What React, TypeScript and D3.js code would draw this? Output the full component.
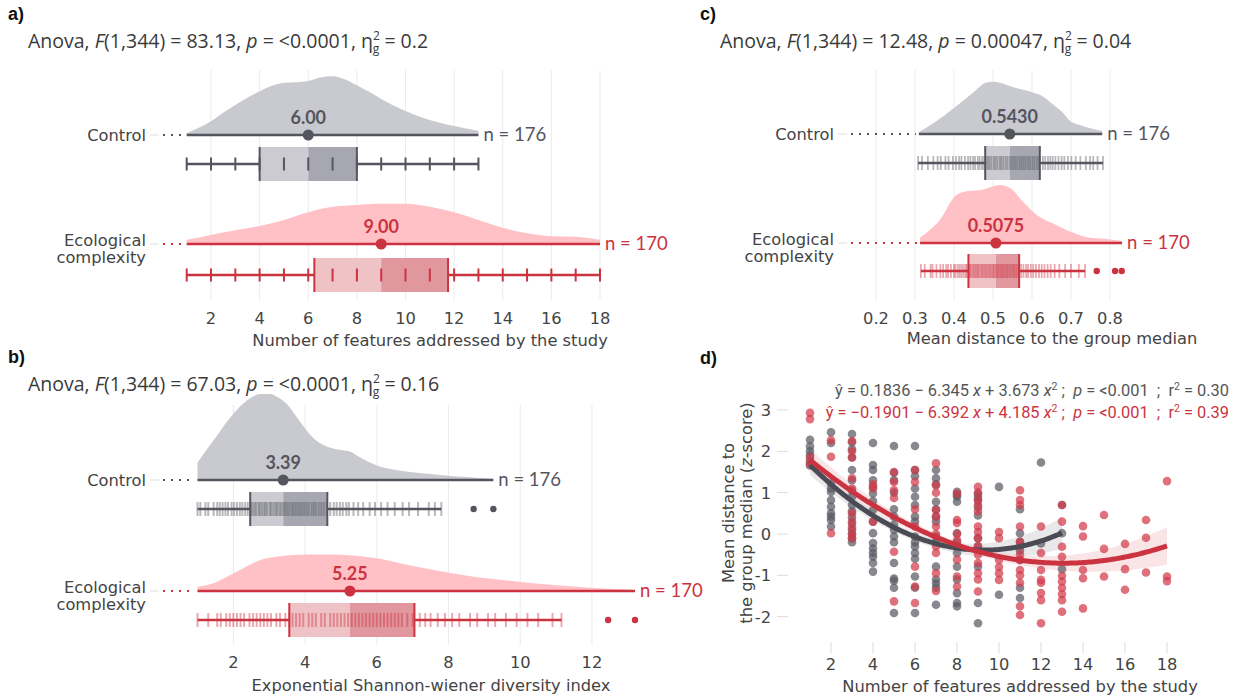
import React from "react";
import * as d3 from "d3";

// ================= DATA =================
// Panel a: number of features addressed (discrete), counts per level
const levelsA_control = [1, 2, 3, 4, 5, 6, 7, 8, 9, 10, 11, 12, 13];
const countsA_control = [3, 8, 14, 20, 24, 26, 28, 22, 13, 8, 5, 3, 2];
const levelsA_eco = [1, 2, 3, 4, 5, 6, 7, 8, 9, 10, 11, 12, 13, 14, 15, 16, 17, 18];
const countsA_eco = [2, 4, 6, 8, 11, 12, 15, 17, 17, 18, 17, 13, 10, 7, 5, 3, 3, 2];
const densA_control: [number, number][] = [[1, 0.03], [1.5, 0.12], [2, 0.23], [2.5, 0.37], [3, 0.5], [3.5, 0.62], [4, 0.73], [4.5, 0.82], [5, 0.87], [5.5, 0.88], [6, 0.9], [6.5, 0.96], [7, 0.98], [7.5, 0.93], [8, 0.83], [8.5, 0.72], [9, 0.6], [10, 0.4], [11, 0.25], [12, 0.15], [13, 0.07]];
const densA_eco: [number, number][] = [[1, 0.07], [2, 0.15], [3, 0.23], [4, 0.3], [5, 0.4], [6, 0.53], [7, 0.62], [8, 0.65], [9, 0.67], [10, 0.67], [11, 0.62], [12, 0.53], [13, 0.4], [14, 0.27], [15, 0.18], [16, 0.13], [17, 0.12], [18, 0.07]];
const ticksA = [2, 4, 6, 8, 10, 12, 14, 16, 18];

// Panel b: exponential Shannon-Wiener diversity
const valuesB_control = [1.0, 1.08, 1.22, 1.3, 1.45, 1.55, 1.62, 1.7, 1.78, 1.85, 1.95, 2.02, 2.1, 2.18, 2.25, 2.33, 2.4, 2.47, 2.52, 2.58, 2.63, 2.7, 2.74, 2.8, 2.86, 2.9, 2.95, 3.02, 3.06, 3.12, 3.18, 3.22, 3.28, 3.33, 3.39, 3.44, 3.5, 3.56, 3.63, 3.68, 3.74, 3.8, 3.86, 3.92, 3.98, 4.04, 4.1, 4.18, 4.24, 4.3, 4.38, 4.45, 4.52, 4.6, 4.7, 4.8, 4.88, 4.97, 5.05, 5.15, 5.22, 5.35, 5.48, 5.62, 5.8, 5.95, 6.12, 6.3, 6.5, 6.72, 6.9, 7.15, 7.45, 7.62, 7.8];
const boxB_control = [1.0, 2.47, 3.39, 4.62, 7.8];
const outliersB_control = [8.7, 9.25];
const densB_control: [number, number][] = [[1.0, 0.2], [1.25, 0.35], [1.5, 0.49], [1.75, 0.64], [2.0, 0.77], [2.25, 0.88], [2.5, 0.96], [2.75, 1.0], [3.0, 1.0], [3.25, 0.96], [3.5, 0.88], [3.75, 0.74], [4.0, 0.6], [4.25, 0.48], [4.5, 0.41], [4.75, 0.37], [5.0, 0.35], [5.25, 0.33], [5.5, 0.27], [6.0, 0.17], [6.5, 0.12], [7.0, 0.09], [7.5, 0.07], [8.0, 0.05], [8.5, 0.035], [9.0, 0.02], [9.25, 0.012]];
const valuesB_eco = [1.0, 1.3, 1.55, 1.65, 1.8, 1.9, 2.0, 2.1, 2.2, 2.3, 2.45, 2.55, 2.65, 2.75, 2.85, 2.95, 3.05, 3.2, 3.3, 3.45, 3.56, 3.65, 3.75, 3.85, 3.95, 4.1, 4.2, 4.3, 4.45, 4.55, 4.7, 4.8, 4.9, 5.0, 5.1, 5.2, 5.3, 5.4, 5.5, 5.6, 5.7, 5.8, 5.9, 6.0, 6.1, 6.2, 6.3, 6.4, 6.5, 6.6, 6.7, 6.85, 7.0, 7.2, 7.35, 7.5, 7.7, 7.9, 8.1, 8.3, 8.6, 8.8, 9.1, 9.3, 9.6, 9.9, 10.2, 10.5, 10.9, 11.15];
const boxB_eco = [1.0, 3.56, 5.25, 7.05, 11.15];
const outliersB_eco = [12.45, 13.2];
const densB_eco: [number, number][] = [[1.0, 0.05], [1.5, 0.1], [1.8, 0.16], [2.25, 0.26], [2.75, 0.36], [3.25, 0.4], [3.7, 0.42], [4.5, 0.425], [5.1, 0.42], [6.0, 0.38], [6.9, 0.3], [7.9, 0.22], [8.8, 0.16], [9.7, 0.12], [10.6, 0.08], [11.6, 0.05], [12.5, 0.025], [13.2, 0.012]];
const ticksB = [2, 4, 6, 8, 10, 12];

// Panel c: mean distance to the group median
const valuesC_control = [0.308, 0.318, 0.333, 0.347, 0.358, 0.366, 0.378, 0.386, 0.397, 0.405, 0.413, 0.419, 0.428, 0.436, 0.442, 0.449, 0.454, 0.461, 0.466, 0.472, 0.477, 0.482, 0.487, 0.491, 0.496, 0.502, 0.506, 0.511, 0.517, 0.521, 0.526, 0.532, 0.537, 0.543, 0.548, 0.553, 0.558, 0.563, 0.569, 0.574, 0.579, 0.584, 0.59, 0.595, 0.601, 0.606, 0.612, 0.617, 0.62, 0.628, 0.634, 0.641, 0.647, 0.653, 0.66, 0.668, 0.676, 0.683, 0.692, 0.701, 0.712, 0.724, 0.738, 0.749, 0.757, 0.768, 0.782];
const boxC_control = [0.308, 0.48, 0.543, 0.62, 0.782];
const outliersC_control: number[] = [];
const densC_control: [number, number][] = [[0.31, 0.035], [0.35, 0.2], [0.4, 0.45], [0.45, 0.72], [0.48, 0.88], [0.5, 0.9], [0.52, 0.88], [0.55, 0.81], [0.58, 0.76], [0.6, 0.72], [0.63, 0.64], [0.65, 0.53], [0.68, 0.36], [0.7, 0.21], [0.73, 0.14], [0.75, 0.1], [0.78, 0.05]];
const valuesC_eco = [0.315, 0.325, 0.34, 0.345, 0.355, 0.365, 0.372, 0.38, 0.385, 0.392, 0.4, 0.404, 0.41, 0.415, 0.42, 0.425, 0.43, 0.433, 0.44, 0.443, 0.448, 0.452, 0.456, 0.46, 0.463, 0.468, 0.472, 0.476, 0.48, 0.484, 0.488, 0.492, 0.496, 0.5, 0.503, 0.507, 0.511, 0.515, 0.52, 0.524, 0.528, 0.533, 0.537, 0.542, 0.547, 0.552, 0.556, 0.561, 0.566, 0.572, 0.578, 0.585, 0.59, 0.597, 0.603, 0.61, 0.618, 0.625, 0.632, 0.64, 0.648, 0.658, 0.67, 0.685, 0.7, 0.72, 0.736];
const boxC_eco = [0.315, 0.437, 0.5075, 0.567, 0.736];
const outliersC_eco = [0.766, 0.813, 0.83];
const densC_eco: [number, number][] = [[0.313, 0.09], [0.364, 0.4], [0.407, 0.83], [0.441, 0.9], [0.467, 0.91], [0.518, 1.0], [0.544, 0.95], [0.577, 0.71], [0.613, 0.48], [0.646, 0.36], [0.69, 0.22], [0.741, 0.1], [0.792, 0.07], [0.831, 0.035]];
const ticksC = [0.2, 0.3, 0.4, 0.5, 0.6, 0.7, 0.8];

// Panel d: scatter, z-score by number of features
const scatterControl: [number, number[]][] = [
  [1, [2.28, 2.12, 2.0, 1.9, 1.76, 1.66]],
  [2, [2.46, 2.2, 1.22, 1.1, 1.02, 0.82, 0.66, 0.5, 0.42, 0.34, 0.18]],
  [3, [2.42, 2.22, 2.05, 1.85, 1.55, 1.3, 1.05, 0.9, 0.7, 0.55, 0.4, 0.25, 0.1, 0.0, -0.1, -0.2]],
  [4, [2.2, 1.67, 1.55, 1.3, 1.14, 0.98, 0.8, 0.58, 0.3, 0.02, -0.22, -0.35, -0.46, -0.55, -0.7, -0.91]],
  [5, [2.13, 1.48, 1.3, 1.0, 0.6, 0.42, 0.22, 0.1, -0.06, -0.2, -0.7, -1.08, -1.13, -1.3, -1.91]],
  [6, [2.13, 1.55, 1.4, 1.1, 0.9, 0.7, 0.42, 0.3, -0.06, -0.2, -0.3, -0.46, -0.6, -1.03, -1.3, -1.91]],
  [7, [1.55, 1.35, 1.2, 0.78, 0.6, 0.42, 0.3, -0.06, -0.2, -0.79, -1.1, -1.2, -1.3, -1.71]],
  [8, [1.02, 0.95, 0.9, 0.78, 0.02, -0.2, -0.46, -0.79, -1.1, -1.43, -1.67, -1.75]],
  [9, [0.98, 0.9, 0.82, 0.65, 0.45, -0.1, -0.3, -0.79, -1.67, -2.16]],
  [10, [1.14, -1.47]],
  [11, [0.6, 0.02, -0.19, -0.4, -0.63, -1.3, -1.55]],
  [12, [1.73, -0.23]],
  [13, [0.7, 0.02, -0.85]],
];
const scatterEco: [number, number[]][] = [
  [1, [2.93, 2.78, 1.85, 1.7]],
  [2, [2.27, 1.87, 0.02]],
  [3, [2.25, 2.0, 1.85, 1.35, 1.1, 0.5, 0.3, 0.15, 0.0, -0.1]],
  [4, [1.2, 1.1, 0.3]],
  [5, [1.5, 1.26, 1.06, 0.87, -0.43, -1.63]],
  [6, [1.55, 1.26, 0.6, 0.18, -0.79, -1.27, -1.67]],
  [7, [1.71, 1.18, 1.0, 0.58, 0.42, 0.18, 0.0, -0.3, -0.46, -0.95, -1.38]],
  [8, [0.98, 0.34, 0.27, 0.0, -0.15, -0.3, -0.62, -1.03, -1.27]],
  [9, [1.14, 1.0, 0.82, 0.7, 0.55, 0.18, 0.05, -0.1, -0.3, -0.5, -0.7, -0.95, -1.1, -1.39]],
  [10, [0.05, -0.1, -0.63, -0.8, -0.95, -1.11]],
  [11, [1.06, 0.82, 0.7, 0.18, -0.19, -0.3, -0.5, -0.63, -0.87, -1.0, -1.18, -1.75, -1.96]],
  [12, [0.18, -0.46, -0.87, -1.11, -1.18, -1.43, -1.6, -2.16]],
  [13, [0.7, 0.3, -0.31, -0.55, -1.01, -1.15, -1.3, -1.45, -1.6, -1.88]],
  [14, [0.19, -0.06, -0.87, -1.07, -1.8]],
  [15, [0.46, -0.36, -1.03]],
  [16, [-0.24, -0.85, -1.35]],
  [17, [0.34, -0.09, -0.93]],
  [18, [1.28, -1.03, -1.14]],
];
// fitted quadratic curves (raw-x coefficients) and CI half-width model [h0, h2, centre]
const fitControl = [2.1975, -0.5575, 0.03003];
const fitEco = [2.221, -0.4481, 0.01715];
const bandControl = [0.1, 0.0057, 6];
const bandEco = [0.09, 0.0036, 8];
const rangeControl = [1, 13];
const rangeEco = [1, 18];
const ticksDx = [2, 4, 6, 8, 10, 12, 14, 16, 18];
const ticksDy = [-2, -1, 0, 1, 2, 3];

// ================= STYLE =================
type Pal = { dens: string; line: string; boxL: string; boxR: string; text: string };
const GREY: Pal = { dens: "#c9c9d0", line: "#55555f", boxL: "#cbcbd1", boxR: "#a7a7b1", text: "#55555f" };
const RED: Pal = { dens: "#ffc1c5", line: "#cc3341", boxL: "#efc2c6", boxR: "#e1979e", text: "#cc3341" };
const AX_FONT = "DejaVu Sans";
const AX_SIZE = 16.3;
const NUM_FONT = "Lato";
const TITLE_FONT = "Open Sans";

const expand = (levels: number[], counts: number[]) =>
  levels.flatMap((v, i) => Array(counts[i]).fill(v) as number[]);

function statsFromCounts(levels: number[], counts: number[]) {
  const v = expand(levels, counts).sort((a, b) => a - b);
  return [d3.min(v)!, d3.quantile(v, 0.25)!, d3.quantile(v, 0.5)!, d3.quantile(v, 0.75)!, d3.max(v)!];
}

interface GroupProps {
  x: d3.ScaleLinear<number, number>;
  pal: Pal;
  dens: [number, number][];
  densPx: number;
  base: number;
  boxY: number;
  stats: number[];
  outliers: number[];
  ticks: number[];
  tickOpacity: number;
  tickW: number;
  tickH: number;
  medLabel: string;
  nLabel: string;
  labelLines: string[];
  labelX: number;
}

function Group(p: GroupProps) {
  const { x, pal, dens, base, boxY, stats } = p;
  const area = d3
    .area<[number, number]>()
    .x((d) => x(d[0]))
    .y0(base)
    .y1((d) => base - d[1] * p.densPx)
    .curve(d3.curveMonotoneX);
  const x0 = x(dens[0][0]);
  const x1 = x(dens[dens.length - 1][0]);
  const [lo, q1, med, q3, hi] = stats;
  const bh = 17;
  const lines = p.labelLines;
  return (
    <g>
      <path d={area(dens) || ""} fill={pal.dens} />
      {/* y axis tick + dotted guide */}
      <line x1={p.labelX + 4} x2={p.labelX + 13} y1={base} y2={base} stroke="#dedede" strokeWidth={1} />
      <line x1={p.labelX + 17} x2={x0 - 3} y1={base} y2={base} stroke={pal.line} strokeWidth={2.2} strokeDasharray="2 6" />
      <line x1={x0} x2={x1} y1={base} y2={base} stroke={pal.line} strokeWidth={2.5} />
      <circle cx={x(med)} cy={base} r={5.5} fill={pal.line} />
      <text x={x(med)} y={base - 11} textAnchor="middle" fontFamily={NUM_FONT} fontWeight={700} fontSize={18} fill={pal.text}>
        {p.medLabel}
      </text>
      <text x={x1 + 5} y={base + 6} fontFamily={NUM_FONT} fontSize={18.5} fill={pal.text}>
        {p.nLabel}
      </text>
      {/* box */}
      <rect x={x(q1)} y={boxY - bh} width={x(med) - x(q1)} height={bh * 2} fill={pal.boxL} />
      <rect x={x(med)} y={boxY - bh} width={x(q3) - x(med)} height={bh * 2} fill={pal.boxR} />
      {p.ticks.map((v, i) => (
        <line key={i} x1={x(v)} x2={x(v)} y1={boxY - p.tickH} y2={boxY + p.tickH} stroke={pal.line} strokeWidth={p.tickW} strokeOpacity={p.tickOpacity} />
      ))}
      <line x1={x(lo)} x2={x(q1)} y1={boxY} y2={boxY} stroke={pal.line} strokeWidth={2.5} />
      <line x1={x(q3)} x2={x(hi)} y1={boxY} y2={boxY} stroke={pal.line} strokeWidth={2.5} />
      <line x1={x(q1)} x2={x(q1)} y1={boxY - bh} y2={boxY + bh} stroke={pal.line} strokeWidth={2} />
      <line x1={x(q3)} x2={x(q3)} y1={boxY - bh} y2={boxY + bh} stroke={pal.line} strokeWidth={2} />
      {p.outliers.map((v, i) => (
        <circle key={i} cx={x(v)} cy={boxY} r={3.2} fill={pal.line} />
      ))}
      {lines.length === 1 ? (
        <text x={p.labelX} y={base + 6} textAnchor="end" fontFamily={AX_FONT} fontSize={AX_SIZE} fill="#444">
          {lines[0]}
        </text>
      ) : (
        lines.map((t, i) => (
          <text key={i} x={p.labelX} y={base + 2 + i * 17} textAnchor="end" fontFamily={AX_FONT} fontSize={AX_SIZE} fill="#444">
            {t}
          </text>
        ))
      )}
    </g>
  );
}

function Grid({ x, ticks, y0, y1 }: { x: d3.ScaleLinear<number, number>; ticks: number[]; y0: number; y1: number }) {
  return (
    <g>
      {ticks.map((t) => (
        <line key={t} x1={x(t)} x2={x(t)} y1={y0} y2={y1} stroke="#ebebeb" strokeWidth={1} />
      ))}
    </g>
  );
}

function XAxis({ x, ticks, y, title, titleX, titleY, fmt }: { x: d3.ScaleLinear<number, number>; ticks: number[]; y: number; title: string; titleX: number; titleY: number; fmt: (v: number) => string }) {
  return (
    <g fontFamily={AX_FONT} fill="#444">
      {ticks.map((t) => (
        <text key={t} x={x(t)} y={y} textAnchor="middle" fontSize={AX_SIZE}>
          {fmt(t)}
        </text>
      ))}
      <text x={titleX} y={titleY} textAnchor="middle" fontSize={AX_SIZE}>
        {title}
      </text>
    </g>
  );
}

function AnovaTitle({ x, y, letter, F, p, eta }: { x: number; y: number; letter: string; F: string; p: string; eta: string }) {
  return (
    <g>
      <text x={x - 20} y={y - 28} fontFamily="Liberation Sans" fontWeight={700} fontSize={18} fill="#111">
        {letter}
      </text>
      <text x={x} y={y} fontFamily={TITLE_FONT} fontSize={19.5} fill="#3a3a3a">
        {"Anova, "}
        <tspan fontStyle="italic">F</tspan>
        {"(1,344) = " + F + ", "}
        <tspan fontStyle="italic">p</tspan>
        {" = " + p + ", η"}
        <tspan dy={-8} fontSize={12}>2</tspan>
        <tspan dx={-7} dy={13} fontSize={12}>g</tspan>
        <tspan dy={-5}>{" = " + eta}</tspan>
      </text>
    </g>
  );
}

// ================= PANELS =================
function PanelA() {
  const x = d3.scaleLinear().domain([1, 18]).range([186.7, 600]);
  const sC = statsFromCounts(levelsA_control, countsA_control);
  const sE = statsFromCounts(levelsA_eco, countsA_eco);
  return (
    <g>
      <Grid x={x} ticks={ticksA} y0={70} y1={300} />
      <Group x={x} pal={GREY} dens={densA_control} densPx={60} base={135} boxY={164} stats={sC} outliers={[]} ticks={levelsA_control} tickOpacity={1} tickW={2} tickH={6.5} medLabel={sC[2].toFixed(2)} nLabel={"n = " + d3.sum(countsA_control)} labelLines={["Control"]} labelX={146} />
      <Group x={x} pal={RED} dens={densA_eco} densPx={60} base={244} boxY={275} stats={sE} outliers={[]} ticks={levelsA_eco} tickOpacity={1} tickW={2} tickH={6.5} medLabel={sE[2].toFixed(2)} nLabel={"n = " + d3.sum(countsA_eco)} labelLines={["Ecological", "complexity"]} labelX={146} />
      <XAxis x={x} ticks={ticksA} y={324} title="Number of features addressed by the study" titleX={430} titleY={346} fmt={(v) => String(v)} />
      <AnovaTitle x={28} y={48} letter="a)" F="83.13" p="<0.0001" eta="0.2" />
    </g>
  );
}

function PanelB() {
  const x = d3.scaleLinear().domain([1, 13.2]).range([197.5, 635]);
  return (
    <g>
      <Grid x={x} ticks={ticksB} y0={405} y1={645} />
      <Group x={x} pal={GREY} dens={densB_control} densPx={86} base={480} boxY={509} stats={boxB_control} outliers={outliersB_control} ticks={valuesB_control} tickOpacity={0.42} tickW={2} tickH={7} medLabel={boxB_control[2].toFixed(2)} nLabel="n = 176" labelLines={["Control"]} labelX={146} />
      <Group x={x} pal={RED} dens={densB_eco} densPx={86} base={591} boxY={620} stats={boxB_eco} outliers={outliersB_eco} ticks={valuesB_eco} tickOpacity={0.42} tickW={2} tickH={7} medLabel={boxB_eco[2].toFixed(2)} nLabel="n = 170" labelLines={["Ecological", "complexity"]} labelX={146} />
      <XAxis x={x} ticks={ticksB} y={668} title="Exponential Shannon-wiener diversity index" titleX={431} titleY={691} fmt={(v) => String(v)} />
      <AnovaTitle x={28} y={391} letter="b)" F="67.03" p="<0.0001" eta="0.16" />
    </g>
  );
}

function PanelC() {
  const x = d3.scaleLinear().domain([0.2, 0.8]).range([876, 1110]);
  return (
    <g>
      <Grid x={x} ticks={ticksC} y0={70} y1={300} />
      <Group x={x} pal={GREY} dens={densC_control} densPx={58} base={134} boxY={163} stats={boxC_control} outliers={outliersC_control} ticks={valuesC_control} tickOpacity={0.42} tickW={1.8} tickH={7} medLabel={boxC_control[2].toFixed(4)} nLabel="n = 176" labelLines={["Control"]} labelX={834} />
      <Group x={x} pal={RED} dens={densC_eco} densPx={58} base={243} boxY={271} stats={boxC_eco} outliers={outliersC_eco} ticks={valuesC_eco} tickOpacity={0.42} tickW={1.8} tickH={7} medLabel={boxC_eco[2].toFixed(4)} nLabel="n = 170" labelLines={["Ecological", "complexity"]} labelX={834} />
      <XAxis x={x} ticks={ticksC} y={324} title="Mean distance to the group median" titleX={1052} titleY={344} fmt={(v) => v.toFixed(1)} />
      <AnovaTitle x={720} y={48} letter="c)" F="12.48" p="0.00047" eta="0.04" />
    </g>
  );
}

function PanelD() {
  const x = d3.scaleLinear().domain([1, 18]).range([810, 1167]);
  const y = d3.scaleLinear().domain([0, 3]).range([534, 410]);
  const poly = (c: number[], v: number) => c[0] + c[1] * v + c[2] * v * v;
  const hw = (b: number[], v: number) => b[0] + b[1] * (v - b[2]) * (v - b[2]);
  const mk = (fit: number[], band: number[], r: number[]) => {
    const xs = d3.range(r[0], r[1] + 1e-9, 0.1);
    const line = d3.line<number>().x((v) => x(v)).y((v) => y(poly(fit, v)))(xs) || "";
    const area =
      d3
        .area<number>()
        .x((v) => x(v))
        .y0((v) => y(poly(fit, v) - hw(band, v)))
        .y1((v) => y(poly(fit, v) + hw(band, v)))(xs) || "";
    return { line, area };
  };
  const cC = mk(fitControl, bandControl, rangeControl);
  const cE = mk(fitEco, bandEco, rangeEco);
  const pts = (s: [number, number[]][]) => s.flatMap(([fx, ys]) => ys.map((v) => [fx, v] as [number, number]));
  const EQ = 16.4;
  const pre = { whiteSpace: "pre" } as React.CSSProperties;
  return (
    <g>
      <text x={700} y={364} fontFamily="Liberation Sans" fontWeight={700} fontSize={18} fill="#111">
        d)
      </text>
      {/* axes ticks */}
      {ticksDy.map((t) => (
        <g key={t}>
          <line x1={777} x2={788} y1={y(t)} y2={y(t)} stroke="#dcdcdc" strokeWidth={1} />
          <text x={771} y={y(t) + 6} textAnchor="end" fontFamily={AX_FONT} fontSize={AX_SIZE} fill="#444">
            {t < 0 ? "-" + Math.abs(t) : String(t)}
          </text>
        </g>
      ))}
      {ticksDx.map((t) => (
        <g key={t}>
          <line x1={x(t)} x2={x(t)} y1={642} y2={653} stroke="#dcdcdc" strokeWidth={1} />
          <text x={x(t)} y={670} textAnchor="middle" fontFamily={AX_FONT} fontSize={AX_SIZE} fill="#444">
            {t}
          </text>
        </g>
      ))}
      <text x={1020} y={692} textAnchor="middle" fontFamily={AX_FONT} fontSize={AX_SIZE} fill="#444">
        Number of features addressed by the study
      </text>
      <text transform="translate(734,513) rotate(-90)" textAnchor="middle" fontFamily={AX_FONT} fontSize={AX_SIZE} fill="#444">
        Mean distance to
      </text>
      <text transform="translate(752,513) rotate(-90)" textAnchor="middle" fontFamily={AX_FONT} fontSize={AX_SIZE} fill="#444">
        {"the group median ("}
        <tspan fontStyle="italic">z</tspan>
        {"-score)"}
      </text>
      {/* bands */}
      <path d={cC.area} fill="#d5d5d8" fillOpacity={0.55} />
      <path d={cE.area} fill="#f3c9cd" fillOpacity={0.5} />
      {/* points */}
      {pts(scatterControl).map(([a, b], i) => (
        <circle key={"g" + i} cx={x(a)} cy={y(b)} r={4.3} fill="#5a5a64" fillOpacity={0.72} />
      ))}
      {pts(scatterEco).map(([a, b], i) => (
        <circle key={"r" + i} cx={x(a)} cy={y(b)} r={4.3} fill="#d23a4b" fillOpacity={0.72} />
      ))}
      <path d={cC.line} fill="none" stroke="#4b4b56" strokeWidth={5} strokeLinecap="butt" />
      <path d={cE.line} fill="none" stroke="#cc3341" strokeWidth={5} strokeLinecap="butt" />
      {/* equations */}
      <text x={1229} y={396} textAnchor="end" fontFamily="Roboto" fontSize={EQ} fill="#555" style={pre}>
        {"ŷ = 0.1836 − 6.345 "}
        <tspan fontStyle="italic">x</tspan>
        {" + 3.673 "}
        <tspan fontStyle="italic">x</tspan>
        <tspan dy={-6} fontSize={10.5}>2</tspan>
        <tspan dy={6}>{" ;  "}</tspan>
        <tspan fontStyle="italic">p</tspan>
        {" = <0.001  ;  r"}
        <tspan dy={-6} fontSize={10.5}>2</tspan>
        <tspan dy={6}>{" = 0.30"}</tspan>
      </text>
      <text x={1229} y={418} textAnchor="end" fontFamily="Roboto" fontSize={EQ} fill="#cc3341" style={pre}>
        {"ŷ = −0.1901 − 6.392 "}
        <tspan fontStyle="italic">x</tspan>
        {" + 4.185 "}
        <tspan fontStyle="italic">x</tspan>
        <tspan dy={-6} fontSize={10.5}>2</tspan>
        <tspan dy={6}>{" ;  "}</tspan>
        <tspan fontStyle="italic">p</tspan>
        {" = <0.001  ;  r"}
        <tspan dy={-6} fontSize={10.5}>2</tspan>
        <tspan dy={6}>{" = 0.39"}</tspan>
      </text>
    </g>
  );
}

export default function App() {
  return (
    <svg width={1239} height={696} viewBox="0 0 1239 696" style={{ position: "absolute", left: 0, top: 0, background: "#fff" }}>
      <rect width={1239} height={696} fill="#fff" />
      <PanelA />
      <PanelB />
      <PanelC />
      <PanelD />
    </svg>
  );
}
